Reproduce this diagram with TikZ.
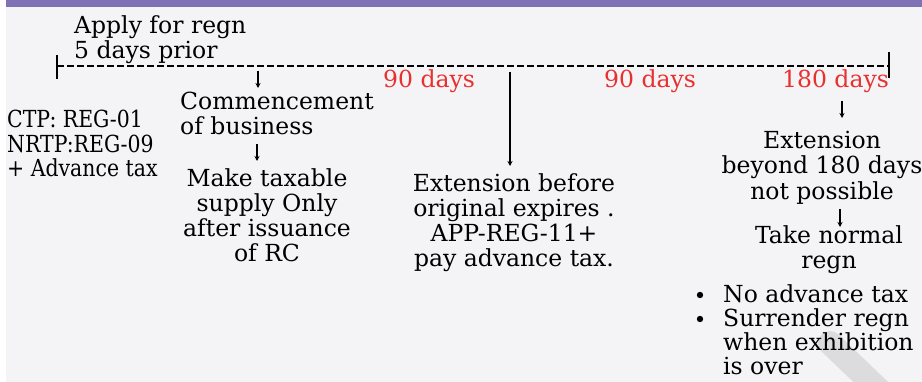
\documentclass[tikz,border=0pt]{standalone}
\usepackage{fontspec}
\setmainfont{DejaVu Serif}
\usetikzlibrary{arrows.meta}
\definecolor{bgc}{HTML}{F4F4F6}
\definecolor{band}{HTML}{8070B5}
\definecolor{dayred}{HTML}{E8302F}
\definecolor{wmark}{HTML}{DCDCDF}
\tikzset{
  txt/.style={inner sep=0pt, font=\fontsize{23.5}{25.3}\selectfont, text=black},
  lefttxt/.style={txt, align=left, anchor=north west},
  ctrtxt/.style={txt, align=center, anchor=north},
  days/.style={inner sep=0pt, font=\fontsize{23.5}{25.3}\selectfont, text=dayred, anchor=base west},
  tline/.style={line width=1.1pt, dash pattern=on 7pt off 3pt},
  tick/.style={line width=1.3pt},
  arr/.style={line width=1.4pt, -{Stealth[length=5pt,width=5pt]}},
}
\begin{document}
\begin{tikzpicture}[x=1pt,y=-1pt]
\useasboundingbox (0,0) rectangle (922,382);
\fill[white] (0,0) rectangle (922,382);
\fill[bgc] (6,0) rectangle (922,382);
\fill[band] (6,0) rectangle (922,7.3);
\draw[wmark, line width=24pt, line cap=round] (830,343) -- (900,410);

% timeline
\coordinate (tl) at (57,66);
\coordinate (tr) at (889,66);
\draw[tline] (tl) -- (tr);
\draw[tick] (57,55) -- (57,79);
\draw[tick] (889,52) -- (889,78);

% texts
\node[lefttxt] (apply) at (74,15) {Apply for regn\\5 days prior};
\node[days] (d1) at (383,88) {90 days};
\node[days] (d2) at (604,88) {90 days};
\node[days] (d3) at (782,88) {180 days};
\node[lefttxt, font=\fontsize{23.5}{24.5}\selectfont\addfontfeature{FakeStretch=0.87}] (ctp) at (7,110) {CTP: REG-01\\NRTP:REG-09\\+ Advance tax};
\node[lefttxt] (comm) at (180,92) {Commencement\\of business};
\node[ctrtxt] (make) at (267,168) {Make taxable\\supply Only\\after issuance\\of RC};
\node[ctrtxt] (extb) at (514,173) {Extension before\\original expires .\\APP-REG-11+\\pay advance tax.};
\node[ctrtxt] (ext) at (822,131) {Extension\\beyond 180 days\\not possible};
\node[ctrtxt] (take) at (829,225) {Take normal\\regn};
\node[lefttxt, font=\fontsize{23.5}{24.2}\selectfont] (bul) at (723,284) {No advance tax\\Surrender regn\\when exhibition\\is over};
\fill (700,295) circle (3.2pt);
\fill (700,319) circle (3.2pt);

% arrows
\coordinate (a1s) at (258,71);  \coordinate (a1e) at (258,88);
\coordinate (a2s) at (257,144); \coordinate (a2e) at (257,161);
\coordinate (a3s) at (510,72);  \coordinate (a3e) at (510,166);
\coordinate (a4s) at (842,101); \coordinate (a4e) at (842,118);
\coordinate (a5s) at (840,209); \coordinate (a5e) at (840,227);
\draw[arr] (a1s) -- (a1e);
\draw[arr] (a2s) -- (a2e);
\draw[arr] (a3s) -- (a3e);
\draw[arr] (a4s) -- (a4e);
\draw[arr] (a5s) -- (a5e);
\end{tikzpicture}
\end{document}
